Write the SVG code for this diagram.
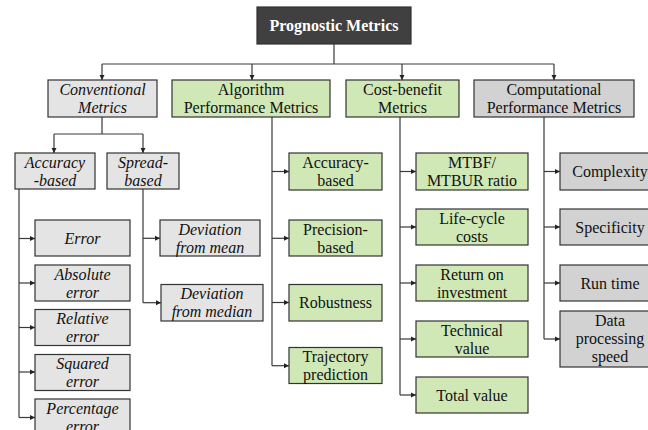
<svg xmlns="http://www.w3.org/2000/svg" width="648" height="430" viewBox="0 0 648 430">
<style>
.box{stroke:#333;stroke-width:1.2}
.g1{fill:#e4e4e4}
.gr{fill:#d0e8b6}
.g2{fill:#d2d2d2}
.dk{fill:#404040}
text{font-family:"Liberation Serif",Tinos,"Times New Roman",Times,"Noto Serif","DejaVu Serif",FreeSerif,"Noto Serif CJK SC",serif;font-size:16px;fill:#111;text-anchor:middle}
.it{font-style:italic}
.bw{font-weight:bold;fill:#fff}
.ln{fill:none;stroke:#3a3a3a;stroke-width:1.2}
</style>
<defs>
<marker id="ah" markerWidth="6" markerHeight="6" refX="5" refY="3" orient="auto" markerUnits="userSpaceOnUse">
<path d="M0,0.5 L5,3 L0,5.5 Z" fill="#222"/>
</marker>
</defs>
<rect width="648" height="430" fill="#fff"/>
<g id="connectors">
<path class="ln" d="M334,44 V64 M102,64 H554"/>
<path class="ln" marker-end="url(#ah)" d="M102,64 V80"/>
<path class="ln" marker-end="url(#ah)" d="M252,64 V80"/>
<path class="ln" marker-end="url(#ah)" d="M402,64 V80"/>
<path class="ln" marker-end="url(#ah)" d="M554,64 V80"/>
<path class="ln" d="M102,117 V134 M54,134 H143"/>
<path class="ln" marker-end="url(#ah)" d="M54,134 V153"/>
<path class="ln" marker-end="url(#ah)" d="M143,134 V153"/>
<path class="ln" d="M19,189 V417.5"/>
<path class="ln" marker-end="url(#ah)" d="M19,238.5 H35"/>
<path class="ln" marker-end="url(#ah)" d="M19,283 H35"/>
<path class="ln" marker-end="url(#ah)" d="M19,327.5 H35"/>
<path class="ln" marker-end="url(#ah)" d="M19,372 H35"/>
<path class="ln" marker-end="url(#ah)" d="M19,417.5 H35"/>
<path class="ln" d="M143,189 V302.7"/>
<path class="ln" marker-end="url(#ah)" d="M143,238.3 H160"/>
<path class="ln" marker-end="url(#ah)" d="M143,302.7 H161"/>
<path class="ln" d="M272,117 V365.7"/>
<path class="ln" marker-end="url(#ah)" d="M272,171.5 H289"/>
<path class="ln" marker-end="url(#ah)" d="M272,238.3 H289"/>
<path class="ln" marker-end="url(#ah)" d="M272,302.5 H289"/>
<path class="ln" marker-end="url(#ah)" d="M272,365.7 H289"/>
<path class="ln" d="M400,117 V395"/>
<path class="ln" marker-end="url(#ah)" d="M400,171.5 H416"/>
<path class="ln" marker-end="url(#ah)" d="M400,227 H416"/>
<path class="ln" marker-end="url(#ah)" d="M400,283 H416"/>
<path class="ln" marker-end="url(#ah)" d="M400,339 H416"/>
<path class="ln" marker-end="url(#ah)" d="M400,395 H416"/>
<path class="ln" d="M544,117 V339"/>
<path class="ln" marker-end="url(#ah)" d="M544,171.5 H560"/>
<path class="ln" marker-end="url(#ah)" d="M544,227 H560"/>
<path class="ln" marker-end="url(#ah)" d="M544,283 H560"/>
<path class="ln" marker-end="url(#ah)" d="M544,339 H560"/>
</g>
<g id="root"><rect class="box dk" x="257" y="7" width="154" height="37"/><text class="bw" x="334" y="30.5">Prognostic Metrics</text></g>
<g id="conventional"><rect class="box g1" x="48" y="80" width="109" height="37"/><text class="it" x="102.5" y="94.5">Conventional</text><text class="it" x="102.5" y="112.5">Metrics</text></g>
<g id="algorithm"><rect class="box gr" x="172" y="80" width="158" height="37"/><text x="251" y="94.5">Algorithm</text><text x="251" y="112.5">Performance Metrics</text></g>
<g id="costbenefit"><rect class="box gr" x="346" y="80" width="113" height="37"/><text x="402.5" y="94.5">Cost-benefit</text><text x="402.5" y="112.5">Metrics</text></g>
<g id="computational"><rect class="box g2" x="474" y="80" width="160" height="37"/><text x="554" y="94.5">Computational</text><text x="554" y="112.5">Performance Metrics</text></g>
<g id="accuracy"><rect class="box g1" x="15" y="153" width="80" height="36"/><text class="it" x="55" y="167.5">Accuracy</text><text class="it" x="55" y="185.5">-based</text></g>
<g id="spread"><rect class="box g1" x="107" y="153" width="72" height="36"/><text class="it" x="143" y="167.5">Spread-</text><text class="it" x="143" y="185.5">based</text></g>
<g id="error"><rect class="box g1" x="35" y="220" width="95" height="36"/><text class="it" x="82.5" y="243.5">Error</text></g>
<g id="abserror"><rect class="box g1" x="35" y="265" width="95" height="36"/><text class="it" x="82.5" y="279.5">Absolute</text><text class="it" x="82.5" y="297.5">error</text></g>
<g id="relerror"><rect class="box g1" x="35" y="309.5" width="95" height="36"/><text class="it" x="82.5" y="324">Relative</text><text class="it" x="82.5" y="342">error</text></g>
<g id="sqerror"><rect class="box g1" x="35" y="354.5" width="95" height="36"/><text class="it" x="82.5" y="369">Squared</text><text class="it" x="82.5" y="387">error</text></g>
<g id="pcterror"><rect class="box g1" x="35" y="399" width="95" height="36"/><text class="it" x="82.5" y="413.5">Percentage</text><text class="it" x="82.5" y="431.5">error</text></g>
<g id="devmean"><rect class="box g1" x="160" y="220" width="100" height="36"/><text class="it" x="210" y="234.5">Deviation</text><text class="it" x="210" y="252.5">from mean</text></g>
<g id="devmedian"><rect class="box g1" x="161" y="284.5" width="102" height="36.5"/><text class="it" x="212" y="299">Deviation</text><text class="it" x="212" y="317">from median</text></g>
<g id="accbased"><rect class="box gr" x="289" y="153" width="93" height="37"/><text x="335.5" y="167.5">Accuracy-</text><text x="335.5" y="185.5">based</text></g>
<g id="precbased"><rect class="box gr" x="289" y="220" width="93" height="36"/><text x="335.5" y="234.5">Precision-</text><text x="335.5" y="252.5">based</text></g>
<g id="robustness"><rect class="box gr" x="289" y="284.5" width="93" height="36.5"/><text x="335.5" y="308">Robustness</text></g>
<g id="trajectory"><rect class="box gr" x="289" y="347.5" width="93" height="36"/><text x="335.5" y="362">Trajectory</text><text x="335.5" y="380">prediction</text></g>
<g id="mtbf"><rect class="box gr" x="416" y="153" width="112" height="37"/><text x="472" y="167.5">MTBF/</text><text x="472" y="185.5">MTBUR ratio</text></g>
<g id="lifecycle"><rect class="box gr" x="416" y="209" width="112" height="36"/><text x="472" y="223.5">Life-cycle</text><text x="472" y="241.5">costs</text></g>
<g id="roi"><rect class="box gr" x="416" y="265" width="112" height="36"/><text x="472" y="279.5">Return on</text><text x="472" y="297.5">investment</text></g>
<g id="technical"><rect class="box gr" x="416" y="321" width="112" height="36"/><text x="472" y="335.5">Technical</text><text x="472" y="353.5">value</text></g>
<g id="totalvalue"><rect class="box gr" x="416" y="377" width="112" height="36"/><text x="472" y="400.5">Total value</text></g>
<g id="complexity"><rect class="box g2" x="560" y="153" width="100" height="37"/><text x="610" y="177">Complexity</text></g>
<g id="specificity"><rect class="box g2" x="560" y="209" width="100" height="36"/><text x="610" y="232.5">Specificity</text></g>
<g id="runtime"><rect class="box g2" x="560" y="265" width="100" height="36"/><text x="610" y="288.5">Run time</text></g>
<g id="dataspeed"><rect class="box g2" x="560" y="311" width="100" height="56"/><text x="610" y="326">Data</text><text x="610" y="344">processing</text><text x="610" y="361.5">speed</text></g>
</svg>
